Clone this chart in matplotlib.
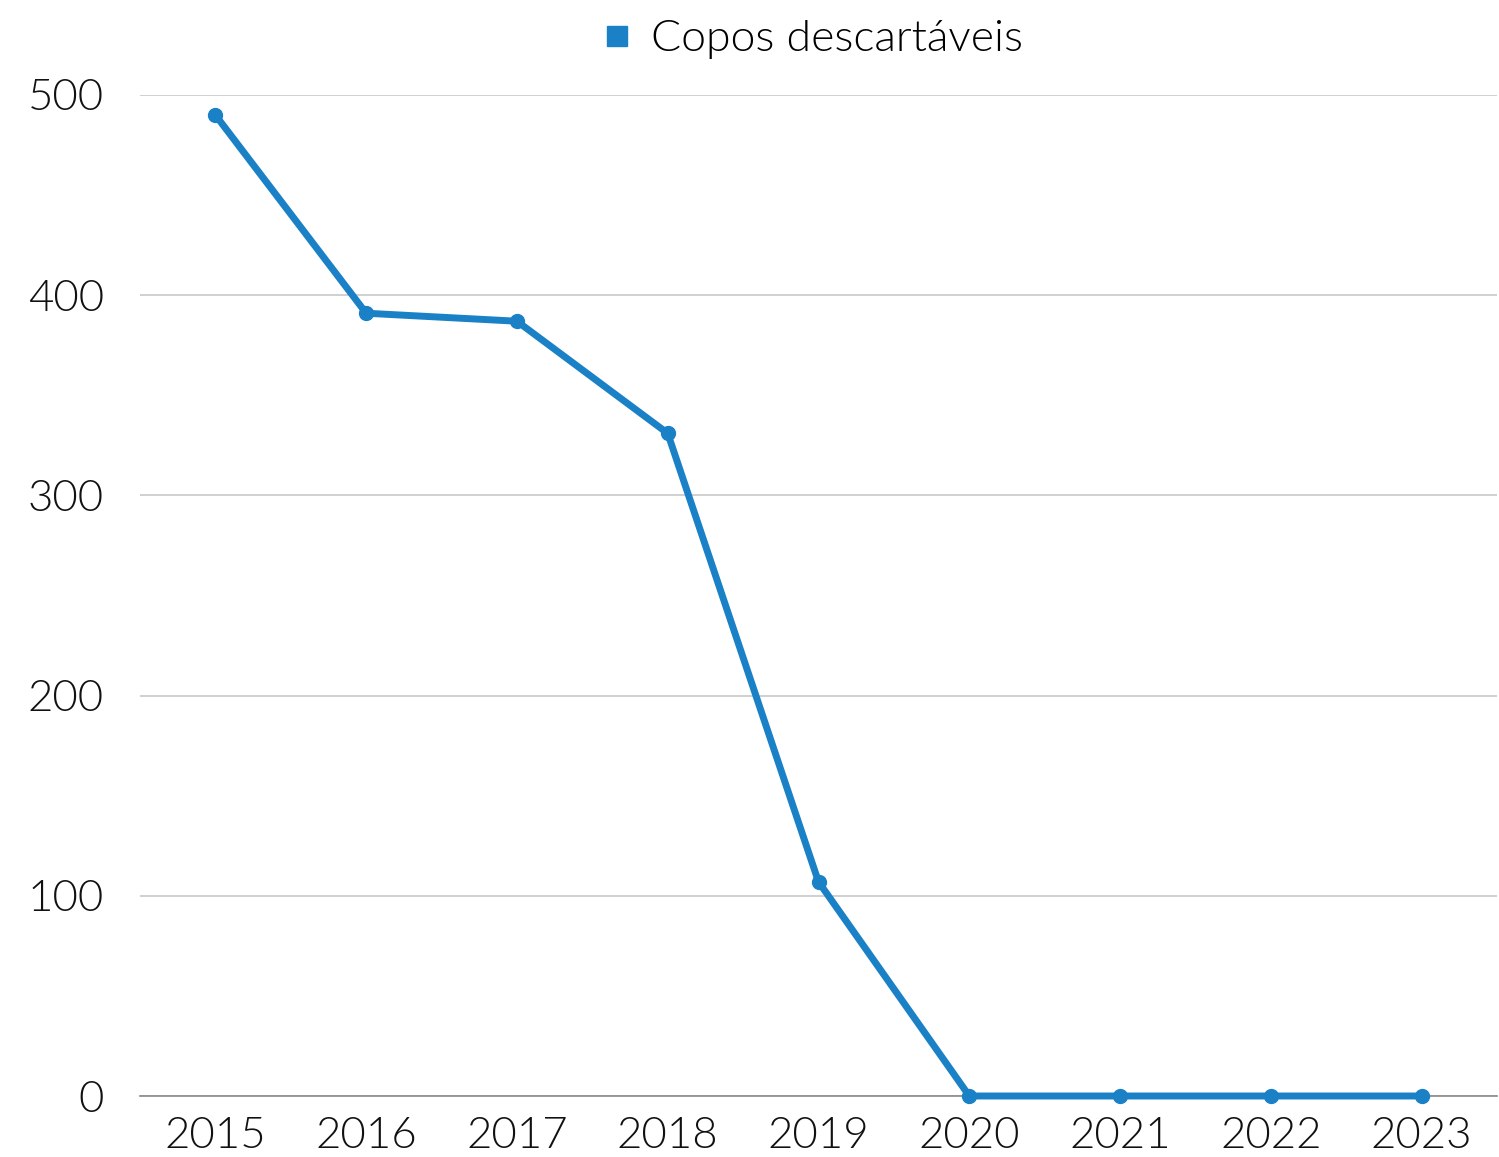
import matplotlib.pyplot as plt
from matplotlib.lines import Line2D

# values
years = ["2015", "2016", "2017", "2018", "2019", "2020", "2021", "2022", "2023"]
copos = [490, 391, 387, 331, 107, 0, 0, 0, 0]
y_ticks = [0, 100, 200, 300, 400, 500]

blue = "#1B81C6"
plt.rcParams["font.family"] = ["Lato", "DejaVu Sans"]
plt.rcParams["font.weight"] = 300

fig = plt.figure(figsize=(14.99, 11.57), dpi=100)
ax = fig.add_axes([140 / 1499, 1 - 1096 / 1157, 1357 / 1499, (1096 - 95) / 1157])

x = list(range(len(years)))
ax.plot(x, copos, color=blue, lw=5, marker="o", markersize=10,
        solid_capstyle="round", clip_on=False, zorder=5)

ax.set_xlim(-0.5, len(years) - 0.5)
ax.set_ylim(0, 500)
ax.set_xticks(x)
ax.set_xticklabels(years)
ax.set_yticks(y_ticks)
ax.tick_params(axis="both", length=0, labelsize=31.5, colors="#111111")
ax.tick_params(axis="x", pad=15)
ax.tick_params(axis="y", pad=26)

ax.grid(axis="y", color="#C8C8C8", lw=1.2)
ax.set_axisbelow(True)
for s in ["top", "right", "left"]:
    ax.spines[s].set_visible(False)
ax.spines["bottom"].set_color("#888888")
ax.spines["bottom"].set_linewidth(1.2)

handle = Line2D([], [], color=blue, marker="s", linestyle="none", markersize=14)
fig.legend([handle], ["Copos descartáveis"], loc="upper center",
           bbox_to_anchor=(0.541, 1.017), frameon=False, fontsize=32,
           handlelength=0.8, handletextpad=0.35)

fig.savefig("out.png", dpi=100)
